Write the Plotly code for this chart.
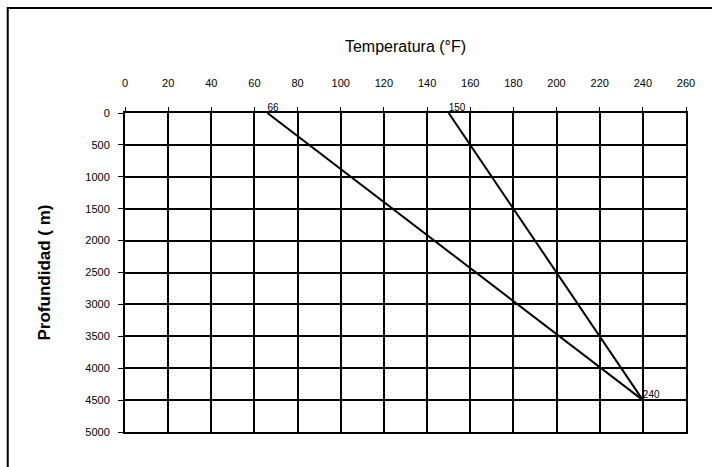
import plotly.graph_objects as go

# Data
temp_line1 = [66, 240]
depth_line1 = [0, 4500]
temp_line2 = [150, 240]
depth_line2 = [0, 4500]
label_line1 = ["66", ""]
label_line2 = ["150", "240"]
x_ticks = list(range(0, 261, 20))
y_ticks = list(range(0, 5001, 500))

fig = go.Figure()
fig.add_trace(go.Scatter(x=temp_line1, y=depth_line1, mode="lines+text",
                         text=label_line1, textposition="top right",
                         textfont=dict(size=10, color="black", family="Liberation Sans"),
                         line=dict(color="black", width=2), showlegend=False, cliponaxis=False))
fig.add_trace(go.Scatter(x=temp_line2, y=depth_line2, mode="lines+text",
                         text=label_line2, textposition=["top right", "top right"],
                         textfont=dict(size=10, color="black", family="Liberation Sans"),
                         line=dict(color="black", width=2), showlegend=False, cliponaxis=False))

fig.update_layout(
    width=712, height=467,
    margin=dict(l=125, r=26, t=113, b=35, autoexpand=False),
    paper_bgcolor="white", plot_bgcolor="white",
    font=dict(family="Liberation Sans", color="black", size=11),
    xaxis=dict(side="top", range=[0, 260], tickvals=x_ticks, ticktext=[str(v) for v in x_ticks],
               showgrid=True, gridcolor="black", gridwidth=2,
               showline=True, linecolor="black", linewidth=2, mirror=True,
               ticks="outside", ticklen=4, tickcolor="black", zeroline=False,
               ticklabelstandoff=16, automargin=False,
               title=dict(text="Temperatura (°F)", font=dict(size=16), standoff=20),
               tickfont=dict(size=11)),
    yaxis=dict(range=[5000, 0], tickvals=y_ticks, ticktext=[str(v) for v in y_ticks],
               showgrid=True, gridcolor="black", gridwidth=2,
               showline=True, linecolor="black", linewidth=2, mirror=True,
               ticks="outside", ticklen=5, tickcolor="black", zeroline=False,
               ticklabelstandoff=6, automargin=False,
               title=dict(text="<b>Profundidad ( m)</b>", font=dict(size=17), standoff=30),
               tickfont=dict(size=11)),
)
# outer chart frame
fig.add_shape(type="rect", xref="paper", yref="paper",
              x0=-0.209, x1=1.2, y0=-0.3, y1=1.329,
              line=dict(color="black", width=2), layer="below")

fig.write_html("out.html", config={"displayModeBar": False},
               post_script="document.body.style.margin='0';document.body.style.overflow='hidden';")
